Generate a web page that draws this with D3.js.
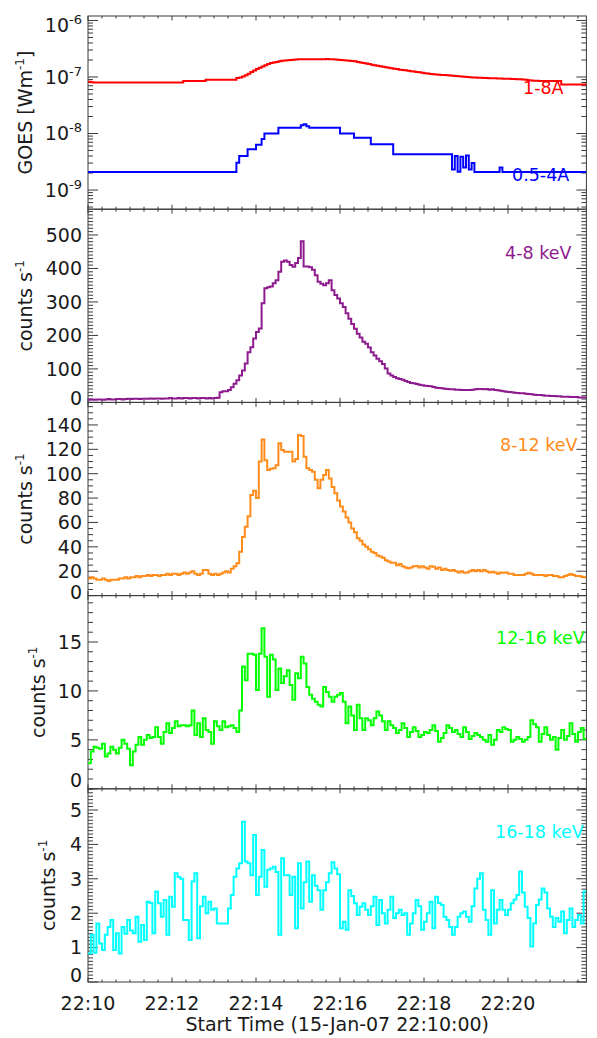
<!DOCTYPE html>
<html><head><meta charset="utf-8">
<script src="https://cdn.jsdelivr.net/npm/d3@7"></script>
<style>html,body{margin:0;padding:0;background:#fff;} svg{display:block;}</style>
</head><body>
<svg id="chart" width="597" height="1038"></svg>
<script>
// ---------------- DATA ----------------
const binSeconds = 4;            // RHESSI / GOES samples, 4 s bins from 22:10:00
const timeSpanSeconds = 712;
const startTimeLabel = "Start Time (15-Jan-07 22:10:00)";
const xTickValues = [0, 120, 240, 360, 480, 600];
const xTickLabels = ["22:10", "22:12", "22:14", "22:16", "22:18", "22:20"];

// GOES fluxes in units of 1e-9 W m^-2
const goesLongNano = [
 82,81,80,80,80,80,80,80,80,80, 80,80,80,80,80,80,80,80,80,80,
 80,80,80,80,80,80,80,80,80,80, 80,80,80,80,85,85,85,85,85,85,
 85,85,89,89,89,89,89,89,89,89, 89,89,89,96,98,102,107,114,122,130,
 138,146,154,162,170,176,181,185,189,193, 196,198,200,202,204,205,206,206,206,207,
 207,206,206,206,207,208,207,206,204,202, 200,198,196,194,192,189,185,181,177,173,
 169,165,161,158,155,152,149,146,143,140, 138,135,133,131,129,127,125,123,121,119,
 117,115,113,112,111,110,109,108,107,106, 105,104,103,102,101,100,99,98,98,97,
 97,96,96,95,95,95,94,94,93,93, 93,92,92,91,91,90,89,88,87,86,
 86,85,85,85,85,85,85,85,85,74, 74,74,74,74,74,74,74,74];
const goesShortNano = [
 2.08,2.08,2.08,2.08,2.08,2.08,2.08,2.08,2.08,2.08, 2.08,2.08,2.08,2.08,2.08,2.08,2.08,2.08,2.08,2.08,
 2.08,2.08,2.08,2.08,2.08,2.08,2.08,2.08,2.08,2.08, 2.08,2.08,2.08,2.08,2.08,2.08,2.08,2.08,2.08,2.08,
 2.08,2.08,2.08,2.08,2.08,2.08,2.08,2.08,2.08,2.08, 2.08,2.08,2.08,3.05,4.0,4.0,4.0,5.25,5.25,5.25,
 6.3,6.3,8.0,10,10,10,10,10,12.7,12.7, 12.7,12.7,12.7,12.7,12.7,12.7,14.0,14.6,13.5,12.7,
 12.7,12.7,12.7,12.7,12.7,12.7,12.7,12.7,12.7,12.7, 10,10,10,10,10,8.45,8.45,8.45,8.45,8.45,
 8.45,6.44,6.44,6.44,6.44,6.44,6.44,6.44,6.44,4.28, 4.28,4.28,4.28,4.28,4.28,4.28,4.28,4.28,4.28,4.28,
 4.28,4.28,4.28,4.28,4.28,4.28,4.28,4.28,4.28,4.28, 2.3,4.0,2.1,3.9,2.5,4.1,2.3,3.0,2.08,2.08,
 2.08,2.08,2.08,2.08,2.08,2.08,2.08,2.5,2.08,2.08, 2.08,2.08,2.08,2.08,2.08,2.08,2.08,2.08,2.08,2.08,
 2.08,2.08,2.08,2.08,2.08,2.08,2.08,2.08,2.08,2.08, 2.08,2.08,2.08,2.08,2.08,2.08,2.08,2.08];

// RHESSI count rates (counts s^-1)
const rate4to8 = [
 8,9,8,9,9,8,9,10,9,9, 10,10,9,10,11,10,11,11,10,11,
 11,11,12,11,12,12,11,12,12,13, 12,12,13,12,13,13,12,13,13,12,
 13,13,12,13,12,13,14,30,33,33, 37,45,56,66,80,95,116,150,165,191,
 210,221,296,341,344,346,356,365,390,420, 424,420,410,405,416,431,481,406,406,404,
 396,380,360,354,350,356,365,335,321,310, 296,285,266,250,234,220,205,194,181,175,
 164,150,140,130,123,115,101,86,80,76, 72,70,68,64,61,58,57,55,53,51,
 50,49,48,46,44,43,42,41,40,39, 39,38,38,37,37,37,37,38,39,40,
 40,39,40,38,39,37,36,35,33,32, 31,30,29,28,27,27,26,25,24,23,
 22,22,21,20,20,19,19,18,18,17, 17,17,16,16,16,15,15,15];
const rate8to12 = [
 14,15,14,13,13,14,13,12,13,13, 13,14,14,15,14,15,15,16,15,16,
 16,17,16,17,17,16,17,17,18,17, 18,18,17,18,19,18,19,20,18,17,
 18,21,21,18,17,18,17,18,19,20, 19,22,24,26.5,36,48,56.5,65,82.6,86,
 80,110,128,111,103,104,104.5,107,125,119.5, 118,118,118,110,112,131.8,131,114,104.5,103,
 101.7,95,88,95,99,103,96,89,84,78, 73,69,64,60,55,52,47,45,42,40,
 38,36,35,33,32,31,29,28,27,27, 25,26,24,23,22.4,23,24,24.3,23,24,
 23,22,24,23.7,22,23,21,22,21,20.4, 21,20,19,20,18.8,19,20,21,20,21,
 20,21,20,19,19.5,19,18,19,18.8,19, 18,18,17,17,16.9,17,18,18.8,18,17,
 17,16.9,17,16,17,16.9,16,16,15,15, 16,17,17.7,17,16,16,15.5,15];
const rate12to16 = [
 2.6,3.8,4.3,4.2,4.1,4.6,3.3,3.6,4.3,4.0, 3.6,4.2,5.0,4.6,4.1,2.4,3.8,4.5,5.3,4.5,
 5.0,5.5,5.2,5.3,6.3,5.3,4.6,5.8,6.7,5.7, 6.2,6.9,6.4,6.5,6.5,6.4,6.5,8.0,5.5,6.7,
 5.3,7.2,6.0,5.8,4.6,6.9,6.4,6.0,6.9,6.3, 6.4,6.5,6.2,5.8,8.0,12.5,11.1,13.8,13.8,13.7,
 10.1,13.8,16.4,13.5,9.4,13.7,13.2,10.1,12.3,10.8, 11.5,12.1,10.6,9.1,11.8,11.3,13.5,12.8,10.4,9.6,
 9.2,8.9,8.6,8.4,10.4,9.9,9.4,8.9,9.4,9.6, 9.8,8.9,6.7,8.4,7.5,6.0,8.6,7.2,6.0,7.2,
 7.0,6.5,7.2,7.9,7.5,6.9,6.0,6.9,6.5,6.2, 5.7,6.0,6.7,6.2,5.3,5.8,6.3,5.9,5.3,5.5,
 5.8,5.7,6.0,6.5,5.9,4.8,5.2,5.7,6.5,6.2, 5.8,6.0,5.6,5.3,6.3,5.8,5.1,5.4,5.7,5.5,
 5.3,5.0,4.8,5.5,4.5,5.0,6.0,5.8,6.3,6.1, 6.0,4.8,5.0,5.3,5.1,4.8,5.0,5.3,7.0,6.6,
 6.3,4.8,5.6,6.3,5.5,5.0,5.3,4.0,5.2,6.0, 5.0,5.4,6.7,5.6,4.8,5.8,6.2,5.1];
const rate16to18 = [
 0.83,1.37,0.85,1.7,1.12,0.93,1.37,1.6,1.8,0.93, 1.42,0.83,1.6,1.4,1.8,1.5,1.42,1.9,1.17,1.66,
 1.22,2.33,2.3,1.42,2.63,2.29,1.9,2.38,1.37,2.48, 2.19,3.16,3.05,3.0,1.8,1.8,1.22,2.92,3.16,1.27,
 2.2,2.48,2.0,2.33,2.1,2.14,1.7,1.7,1.7,1.7, 2.14,2.53,3.06,3.3,3.45,4.66,3.5,3.45,3.1,4.27,
 2.53,3.06,3.84,2.77,3.26,3.3,3.35,3.2,1.37,3.6, 3.1,3.1,2.53,3.06,1.56,3.45,2.14,2.9,3.5,2.33,
 3.1,2.8,2.67,2.1,2.67,2.9,3.16,3.48,3.3,3.13, 1.56,1.75,1.52,2.67,2.5,2.29,1.95,2.19,2.29,2.1,
 1.95,2.2,2.48,1.66,2.38,2.0,1.7,2.1,2.48,1.86, 2.0,2.1,1.95,2.0,1.37,1.7,2.0,2.38,2.2,1.52,
 1.75,2.0,2.33,1.56,2.48,2.3,2.24,1.9,1.8,1.6, 1.37,1.6,1.9,2.0,2.05,1.9,1.75,2.2,2.72,3.0,
 3.16,2.1,1.8,1.37,2.67,1.7,2.1,2.38,2.1,1.95, 2.1,2.29,2.4,2.53,3.21,2.6,2.19,1.86,1.03,1.7,
 2.24,2.4,2.72,2.6,2.14,1.9,1.6,1.86,1.75,2.05, 1.42,1.8,2.14,1.6,1.8,1.95,1.7,2.63];

const goesMajorTicks = [1e-9, 1e-8, 1e-7, 1e-6];
const goesTickExponents = ["-9", "-8", "-7", "-6"];
const ticks4to8 = [0, 100, 200, 300, 400, 500];
const ticks8to12 = [0, 20, 40, 60, 80, 100, 120, 140];
const ticks12to16 = [0, 5, 10, 15];
const ticks16to18 = [0, 1, 2, 3, 4, 5];

// ---------------- LAYOUT ----------------
const W = 597, H = 1038;
const plotLeft = 88, plotRight = 586.4, panelTop = 16, panelH = 193.2;
const font = "'DejaVu Sans', 'Liberation Sans', sans-serif";
const axisColor = "#3a3a3a", textColor = "#1a1a1a";

const panels = [
  { type: "log", domain: [4.58e-10, 1.2e-6], title: "GOES [Wm", titleX: 32, zeroLift: 0,
    series: [
      { values: goesLongNano, unit: 1e-9, color: "#ff0000", label: "1-8A", lx: 523, ly: 88 },
      { values: goesShortNano, unit: 1e-9, color: "#0000ff", label: "0.5-4A", lx: 512, ly: 175 }
    ] },
  { type: "lin", domain: [0, 577], ticks: ticks4to8, minor: 10, title: "counts s", titleX: 32, zeroLift: 4.4,
    series: [{ values: rate4to8, unit: 1, color: "#8e1b8e", label: "4-8 keV", lx: 505, ly: 253 }] },
  { type: "lin", domain: [0, 158.5], ticks: ticks8to12, minor: 5, title: "counts s", titleX: 32, zeroLift: 3.2,
    series: [{ values: rate8to12, unit: 1, color: "#ff8c1a", label: "8-12 keV", lx: 500, ly: 445 }] },
  { type: "lin", domain: [0, 19.74], ticks: ticks12to16, minor: 1, title: "counts s", titleX: 45, zeroLift: 8.5,
    series: [{ values: rate12to16, unit: 1, color: "#00ff00", label: "12-16 keV", lx: 496, ly: 638 }] },
  { type: "lin", domain: [0, 5.616], ticks: ticks16to18, minor: 0.1, title: "counts s", titleX: 55, zeroLift: 7,
    series: [{ values: rate16to18, unit: 1, color: "#00ffff", label: "16-18 keV", lx: 495, ly: 832 }] }
];

const svg = d3.select("#chart");
svg.append("rect").attr("width", W).attr("height", H).attr("fill", "#fff");
const x = d3.scaleLinear().domain([0, timeSpanSeconds]).range([plotLeft, plotRight]);
const defs = svg.append("defs");

panels.forEach((p, k) => {
  const top = panelTop + k * panelH, bottom = top + panelH;
  const y = (p.type === "log" ? d3.scaleLog() : d3.scaleLinear()).domain(p.domain).range([bottom, top]);
  const g = svg.append("g");

  defs.append("clipPath").attr("id", "clip" + k).append("rect")
    .attr("x", plotLeft).attr("y", top - 1).attr("width", plotRight - plotLeft).attr("height", panelH + 2);

  // x ticks (top & bottom, inward)
  d3.range(0, timeSpanSeconds + 0.1, 20).forEach(t => {
    const len = (t % 120 === 0) ? 4.5 : 2.5;
    const xx = x(t);
    g.append("line").attr("x1", xx).attr("x2", xx).attr("y1", top).attr("y2", top + len)
      .attr("stroke", axisColor).attr("stroke-width", 1);
    g.append("line").attr("x1", xx).attr("x2", xx).attr("y1", bottom).attr("y2", bottom - len)
      .attr("stroke", axisColor).attr("stroke-width", 1);
  });

  // y ticks
  let majors, minors;
  if (p.type === "log") {
    majors = goesMajorTicks;
    minors = [];
    [-10, -9, -8, -7, -6].forEach(e => { for (let m = 2; m <= 9; m++) { const v = m * Math.pow(10, e); if (v >= p.domain[0] && v <= p.domain[1]) minors.push(v); } });
  } else {
    majors = p.ticks;
    minors = d3.range(0, p.domain[1] + 1e-9, p.minor).filter(v => !majors.some(m => Math.abs(m - v) < 1e-6));
  }
  const yTick = (v, len) => {
    const yy = y(v);
    g.append("line").attr("x1", plotLeft).attr("x2", plotLeft + len).attr("y1", yy).attr("y2", yy)
      .attr("stroke", axisColor).attr("stroke-width", 1);
    g.append("line").attr("x1", plotRight).attr("x2", plotRight - len).attr("y1", yy).attr("y2", yy)
      .attr("stroke", axisColor).attr("stroke-width", 1);
  };
  minors.forEach(v => yTick(v, 5));
  majors.forEach(v => yTick(v, 10));

  // frame
  g.append("rect").attr("x", plotLeft).attr("y", top).attr("width", plotRight - plotLeft).attr("height", panelH)
    .attr("fill", "none").attr("stroke", axisColor).attr("stroke-width", 1);

  // y tick labels
  majors.forEach((v, i) => {
    let cy = y(v);
    if (p.type === "log") cy = Math.max(top + 9, cy);
    if (p.type === "lin" && v === 0) cy = bottom - p.zeroLift;
    const t = g.append("text").attr("x", 82).attr("y", cy).attr("dy", "0.36em")
      .attr("text-anchor", "end").attr("font-family", font).attr("font-size", 19).attr("fill", textColor);
    if (p.type === "log") {
      t.append("tspan").text("10");
      t.append("tspan").attr("dy", -8).attr("font-size", 13).text(goesTickExponents[i]);
    } else {
      t.text(String(v));
    }
  });

  // y title
  const cyMid = (top + bottom) / 2;
  const tt = g.append("text").attr("transform", `translate(${p.titleX},${cyMid}) rotate(-90)`)
    .attr("text-anchor", "middle").attr("font-family", font).attr("font-size", 19).attr("fill", textColor);
  tt.append("tspan").text(p.title);
  tt.append("tspan").attr("dy", -8).attr("font-size", 12).text("-1");
  if (p.type === "log") tt.append("tspan").attr("dy", 8).text("]");

  // traces
  const line = d3.line().x(d => x(d[0])).y(d => y(d[1])).curve(d3.curveStepAfter);
  p.series.forEach(s => {
    const pts = s.values.map((v, i) => [i * binSeconds, v * s.unit]);
    pts.push([s.values.length * binSeconds, s.values[s.values.length - 1] * s.unit]);
    g.append("path").datum(pts).attr("d", line).attr("fill", "none")
      .attr("stroke", s.color).attr("stroke-width", 2).attr("stroke-linejoin", "miter")
      .attr("clip-path", `url(#clip${k})`);
  });
  p.series.forEach(s => {
    g.append("text").attr("x", s.lx).attr("y", s.ly).attr("dy", "0.36em")
      .attr("font-family", font).attr("font-size", 17.5).attr("fill", s.color).text(s.label);
  });

  // bottom axis labels
  if (k === panels.length - 1) {
    xTickValues.forEach((t, i) => {
      g.append("text").attr("x", x(t)).attr("y", 1010).attr("text-anchor", "middle")
        .attr("font-family", font).attr("font-size", 19).attr("fill", textColor).text(xTickLabels[i]);
    });
    g.append("text").attr("x", (plotLeft + plotRight) / 2).attr("y", 1031).attr("text-anchor", "middle")
      .attr("font-family", font).attr("font-size", 19).attr("fill", textColor).text(startTimeLabel);
  }
});
</script>
</body></html>
